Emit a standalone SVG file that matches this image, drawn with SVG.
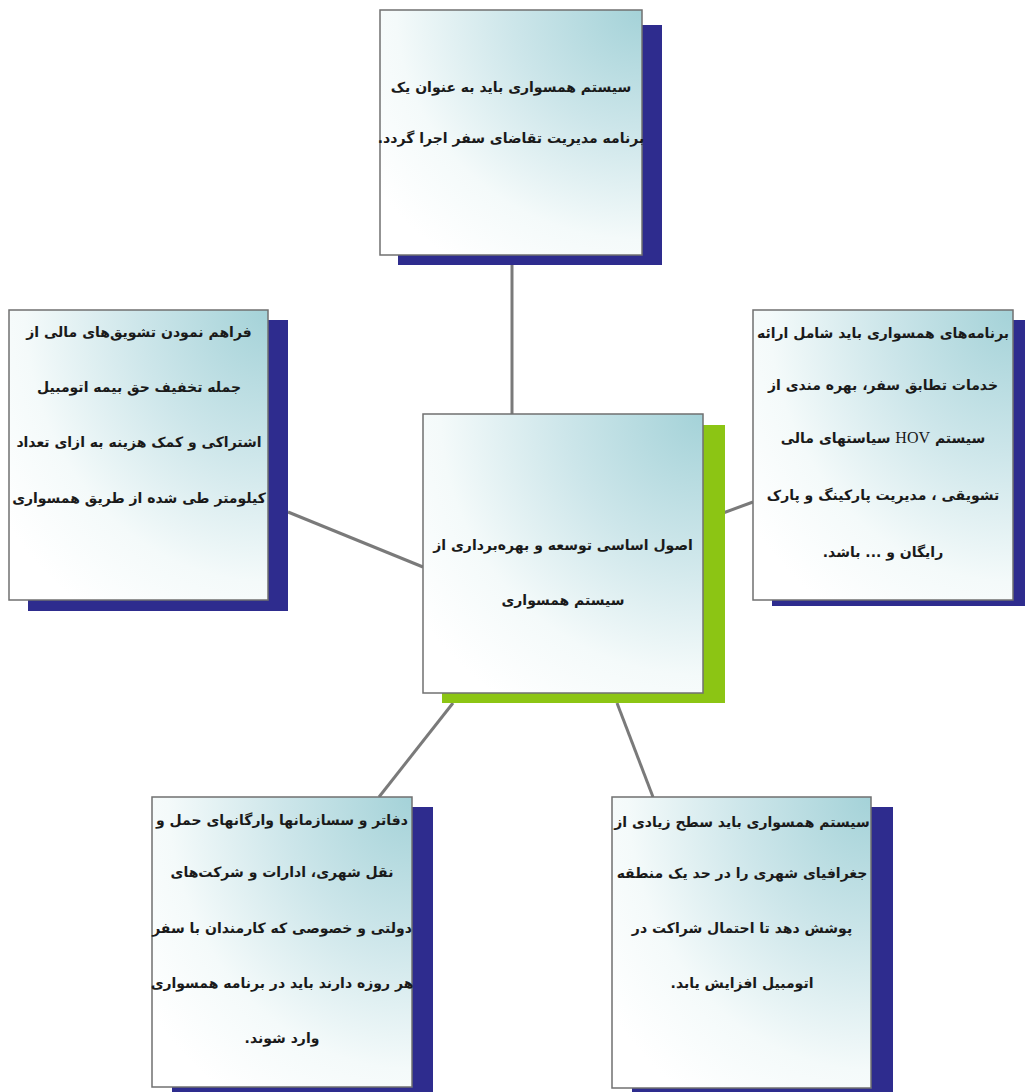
<svg xmlns="http://www.w3.org/2000/svg" width="1025" height="1092" viewBox="0 0 1025 1092">
<style>
.box{stroke:#707070;stroke-width:1.5;fill:url(#g)}
.sh{fill:#2e2c8e}
.shg{fill:#8cc514}
.t{font-family:"DejaVu Sans",sans-serif;font-weight:bold;font-size:14px;fill:#1a1a1a;text-anchor:middle;direction:rtl}
.hov{font-family:"Liberation Serif",serif;font-weight:normal;font-size:16px}
.c{stroke:#7a7a7a;stroke-width:3;fill:none}
</style>
<defs>
<radialGradient id="g" cx="1" cy="0" r="1.25" fx="1" fy="0">
<stop offset="0" stop-color="#a4d2d8"/>
<stop offset="0.4" stop-color="#cde6ea"/>
<stop offset="0.75" stop-color="#f4fafa"/>
<stop offset="1" stop-color="#ffffff"/>
</radialGradient>
</defs>
<rect width="1025" height="1092" fill="#ffffff"/>
<g id="connectors">
<line class="c" x1="512" y1="265" x2="512" y2="414"/>
<line class="c" x1="288" y1="512" x2="423" y2="567"/>
<line class="c" x1="723" y1="513" x2="753" y2="502"/>
<line class="c" x1="453" y1="703" x2="379" y2="797"/>
<line class="c" x1="617" y1="703" x2="653" y2="797"/>
</g>
<g id="center">
<rect class="shg" x="442" y="425" width="283" height="278"/>
<rect class="box" x="423" y="414" width="280" height="279"/>
<text class="t" x="563" y="550">اصول اساسی توسعه و بهره‌برداری از</text>
<text class="t" x="563" y="605">سیستم همسواری</text>
</g>
<g id="top">
<rect class="sh" x="398" y="25" width="264" height="240"/>
<rect class="box" x="380" y="10" width="262" height="245"/>
<text class="t" x="511" y="92">سیستم همسواری باید به عنوان یک</text>
<text class="t" x="511" y="143">برنامه مدیریت تقاضای سفر اجرا گردد.</text>
</g>
<g id="left">
<rect class="sh" x="28" y="320" width="260" height="291"/>
<rect class="box" x="9" y="310" width="259" height="290"/>
<text class="t" x="139" y="337">فراهم نمودن تشویق‌های مالی از</text>
<text class="t" x="139" y="392">جمله تخفیف حق بیمه اتومبیل</text>
<text class="t" x="139" y="447">اشتراکی و کمک هزینه به ازای تعداد</text>
<text class="t" x="139" y="503">کیلومتر طی شده از طریق همسواری</text>
</g>
<g id="right">
<rect class="sh" x="772" y="320" width="260" height="286"/>
<rect class="box" x="753" y="310" width="260" height="290"/>
<text class="t" x="883" y="338">برنامه‌های همسواری باید شامل ارائه</text>
<text class="t" x="883" y="390">خدمات تطابق سفر، بهره مندی از</text>
<text class="t" x="883" y="443">سیستم  <tspan class="hov">HOV</tspan> سیاستهای مالی</text>
<text class="t" x="883" y="500">تشویقی ، مدیریت پارکینگ و پارک</text>
<text class="t" x="883" y="557">رایگان و ... باشد.</text>
</g>
<g id="bottom-left">
<rect class="sh" x="172" y="807" width="261" height="290"/>
<rect class="box" x="152" y="797" width="260" height="290"/>
<text class="t" x="282" y="825">دفاتر و سسازمانها وارگانهای حمل و</text>
<text class="t" x="282" y="877">نقل شهری، ادارات و شرکت‌های</text>
<text class="t" x="282" y="933">دولتی و خصوصی که کارمندان با سفر</text>
<text class="t" x="282" y="988">هر روزه دارند باید در برنامه همسواری</text>
<text class="t" x="282" y="1043">وارد شوند.</text>
</g>
<g id="bottom-right">
<rect class="sh" x="632" y="807" width="261" height="290"/>
<rect class="box" x="612" y="797" width="259" height="291"/>
<text class="t" x="742" y="827">سیستم همسواری باید سطح زیادی از</text>
<text class="t" x="742" y="878">جغرافیای شهری را در حد یک منطقه</text>
<text class="t" x="742" y="933">پوشش دهد تا احتمال شراکت در</text>
<text class="t" x="742" y="988">اتومبیل افزایش یابد.</text>
</g>
</svg>
